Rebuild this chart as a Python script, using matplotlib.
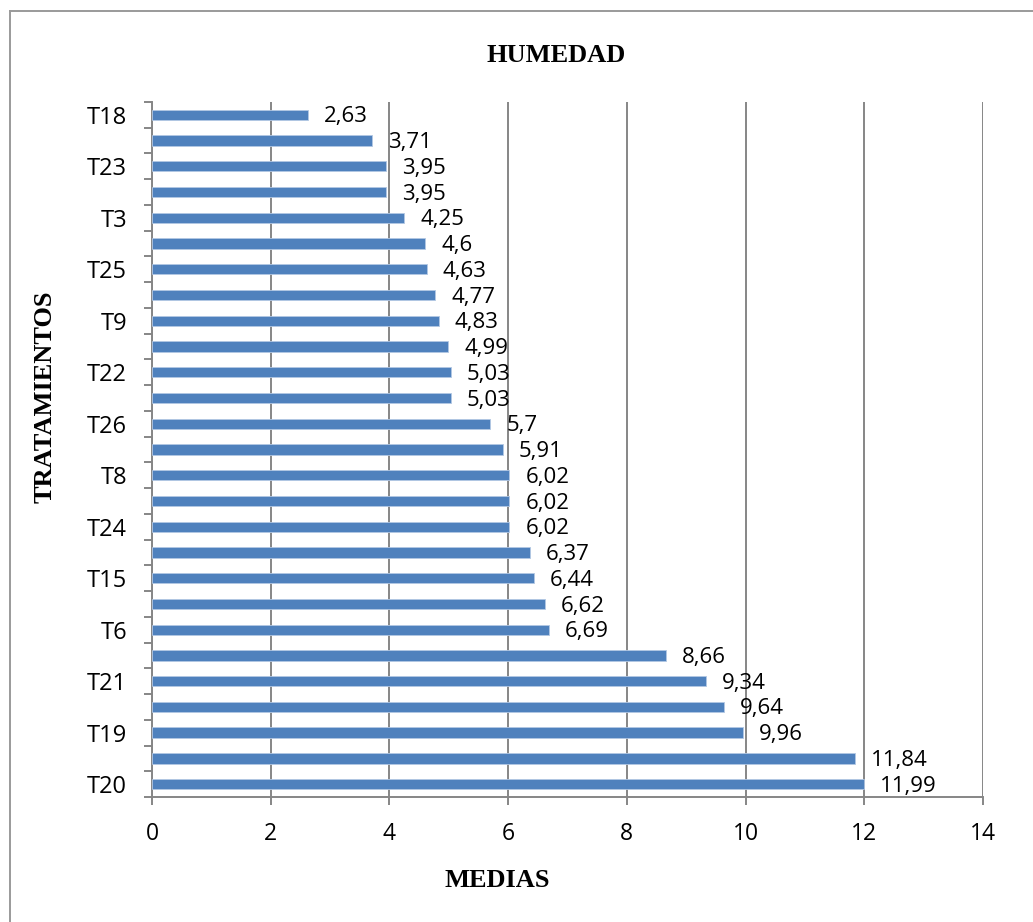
import matplotlib
matplotlib.use("Agg")
import matplotlib.pyplot as plt
from matplotlib.lines import Line2D
import numpy as np

# Treatment means, listed from the top bar to the bottom bar
treatments = ["T18", "", "T23", "", "T3", "", "T25", "", "T9", "", "T22", "",
              "T26", "", "T8", "", "T24", "", "T15", "", "T6", "", "T21", "",
              "T19", "", "T20"]
means = [2.63, 3.71, 3.95, 3.95, 4.25, 4.6, 4.63, 4.77, 4.83, 4.99, 5.03, 5.03,
         5.7, 5.91, 6.02, 6.02, 6.02, 6.37, 6.44, 6.62, 6.69, 8.66, 9.34, 9.64,
         9.96, 11.84, 11.99]
x_ticks = [0, 2, 4, 6, 8, 10, 12, 14]

W, H = 1033, 922
fig = plt.figure(figsize=(W / 100, H / 100), dpi=100)
ax = fig.add_axes([152 / W, (H - 797) / H, (983 - 152) / W, (797 - 102) / H])

grey = "#868686"
bar_blue = "#4f81bd"
label_font = "Open Sans"
title_font = "Liberation Serif"

n = len(means)
ypos = np.arange(n)[::-1]
ax.barh(ypos, means, height=0.4, color=bar_blue, edgecolor="#b3c8e3",
        linewidth=0.6, zorder=3)

for y, v in zip(ypos, means):
    ax.annotate(f"{v:g}".replace(".", ","), xy=(v, y), xytext=(11.5, -1.5),
                textcoords="offset points", ha="left", va="center",
                fontsize=16, family=label_font, color="black", zorder=4)

ax.set_xlim(0, 14)
ax.set_ylim(-0.5, n - 0.5)

# vertical gridlines
ax.set_xticks(x_ticks)
ax.set_xticklabels([str(t) for t in x_ticks], family=label_font, fontsize=16.5)
ax.grid(axis="x", color=grey, linewidth=1.4, zorder=1)
ax.grid(axis="y", visible=False)

# category boundaries get tick marks, category centres carry the labels
ax.set_yticks(np.arange(-0.5, n, 1.0))
ax.set_yticklabels([])
ax.set_yticks(ypos, minor=True)
ax.set_yticklabels(treatments, minor=True, family=label_font, fontsize=17)
ax.tick_params(axis="y", which="major", length=6, width=1.4, color=grey, direction="out")
ax.tick_params(axis="y", which="minor", length=0, pad=18)
ax.tick_params(axis="x", which="major", length=6, width=1.4, color=grey,
               direction="out", pad=12)

for side in ("top", "right"):
    ax.spines[side].set_visible(False)
for side in ("left", "bottom"):
    ax.spines[side].set_color(grey)
    ax.spines[side].set_linewidth(1.4)
    ax.spines[side].set_zorder(2)

fig.text(556 / W, 1 - 55 / H, "HUMEDAD", ha="center", va="center",
         family=title_font, fontweight="bold", fontsize=19)
fig.text(497 / W, 1 - 880 / H, "MEDIAS", ha="center", va="center",
         family=title_font, fontweight="bold", fontsize=19)
fig.text(45 / W, 1 - 397 / H, "TRATAMIENTOS", ha="center", va="center",
         rotation=90, family=title_font, fontweight="bold", fontsize=19)

# outer chart frame (top and left edges)
fig.add_artist(Line2D([9.5 / W, 1.0], [1 - 11 / H, 1 - 11 / H],
                      transform=fig.transFigure, color="#9a9a9a", linewidth=1.4))
fig.add_artist(Line2D([9.5 / W, 9.5 / W], [0.0, 1 - 11 / H],
                      transform=fig.transFigure, color="#9a9a9a", linewidth=1.4))

fig.savefig("out.png", dpi=100, facecolor="white")
